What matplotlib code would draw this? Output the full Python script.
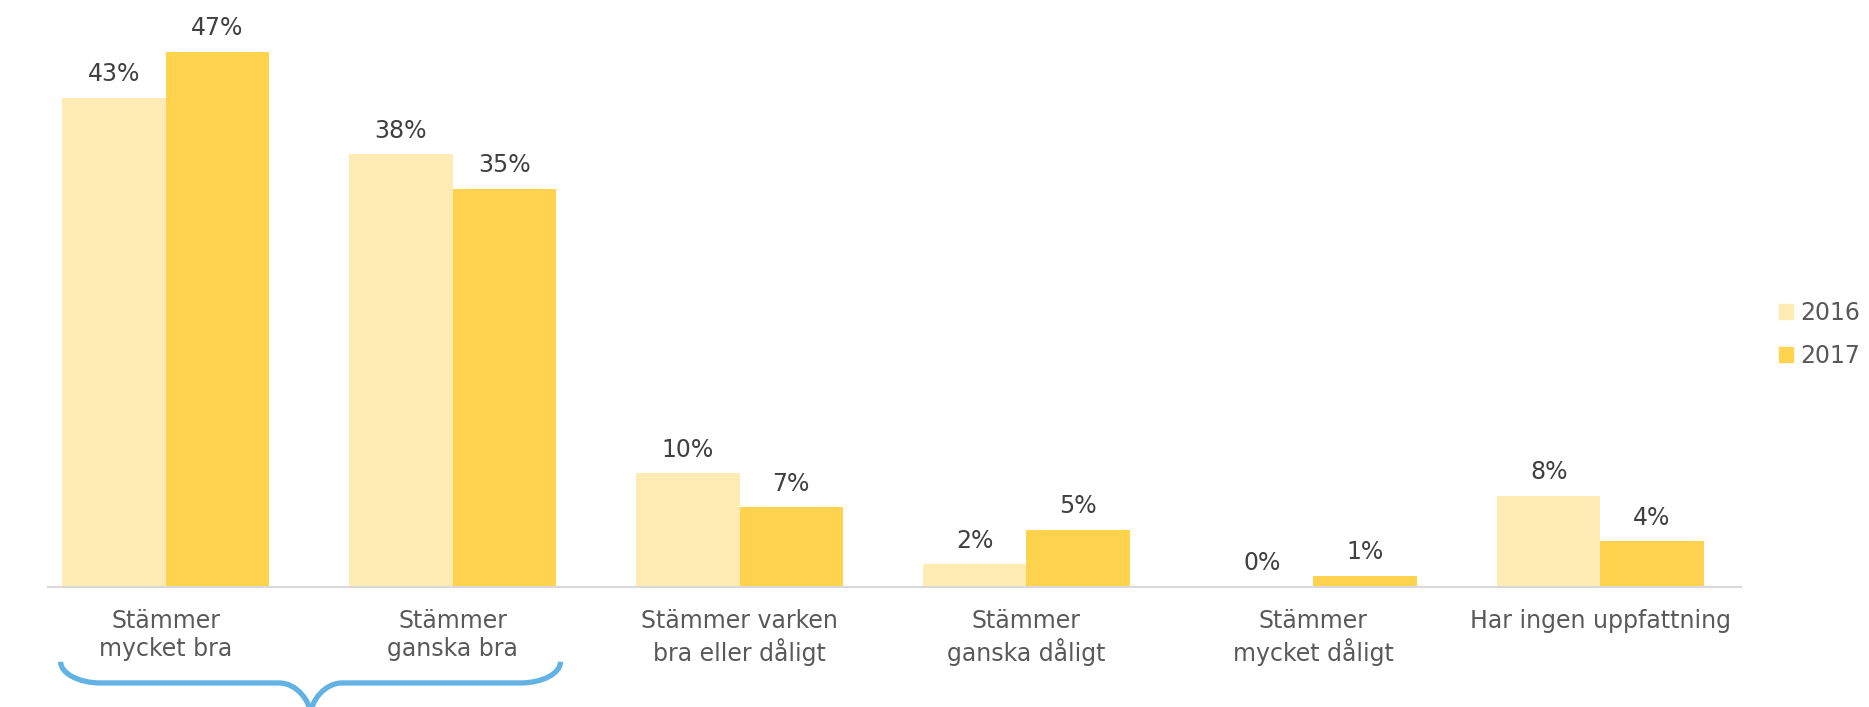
import matplotlib.pyplot as plt
from matplotlib.path import Path
from matplotlib.patches import PathPatch, Patch
from matplotlib.transforms import blended_transform_factory

plt.rcParams['font.family'] = ['DejaVu Sans']

# data
categories = [
    "Stämmer\nmycket bra",
    "Stämmer\nganska bra",
    "Stämmer varken\nbra eller dåligt",
    "Stämmer\nganska dåligt",
    "Stämmer\nmycket dåligt",
    "Har ingen uppfattning",
]
years = ["2016", "2017"]
values_2016 = [43, 38, 10, 2, 0, 8]
values_2017 = [47, 35, 7, 5, 1, 4]

light = '#FFEBB3'
dark = '#FFD34E'
val_color = '#404040'
lab_color = '#595959'
brace_color = '#62B3E3'

fig = plt.figure(figsize=(18.69, 7.07), dpi=100)
ax = fig.add_axes([0.0257, 0.1697, 0.9058, 0.805])

x = list(range(len(categories)))
w = 0.36
b1 = ax.bar([i - w / 2 for i in x], values_2016, width=w, color=light, label=years[0])
b2 = ax.bar([i + w / 2 for i in x], values_2017, width=w, color=dark, label=years[1])

# procentetiketter
for bars, vals in ((b1, values_2016), (b2, values_2017)):
    for rect, v in zip(bars, vals):
        ax.annotate(f"{v}%", (rect.get_x() + rect.get_width() / 2, rect.get_height()),
                    xytext=(0, 12), textcoords='offset points',
                    ha='center', va='baseline', fontsize=17, color=val_color)

ax.set_xlim(-0.41, 5.49)
ax.set_ylim(0, 50)
ax.set_xticks(x)
ax.set_xticklabels(categories, fontsize=17, color=lab_color, linespacing=1.22)
ax.tick_params(axis='x', length=0, pad=16)
ax.set_yticks([])
for s in ('left', 'right', 'top'):
    ax.spines[s].set_visible(False)
ax.spines['bottom'].set_color('#D9D9D9')
ax.spines['bottom'].set_linewidth(1.5)

# legend
handles = [Patch(color=light), Patch(color=dark)]
fig.legend(handles, years, loc='center left', bbox_to_anchor=(0.952, 0.527),
           frameon=False, fontsize=17, labelcolor=lab_color,
           handlelength=0.6, handleheight=0.6, handletextpad=0.3,
           labelspacing=0.83, borderpad=0, borderaxespad=0)

# klammer under de två första grupperna
trans = blended_transform_factory(ax.transData, fig.transFigure)
x0, x1 = -0.366, 1.376
xc = (x0 + x1) / 2
yt, yh, ytip = 0.064, 0.034, -0.012
r, rc, k = 0.14, 0.11, 0.552
verts = [
    (x0, yt),
    (x0, yt - k * (yt - yh)), (x0 + (1 - k) * r, yh), (x0 + r, yh),
    (xc - rc, yh),
    (xc - rc + k * rc, yh), (xc, yh - k * (yh - ytip)), (xc, ytip),
    (xc, yh - k * (yh - ytip)), (xc + rc - k * rc, yh), (xc + rc, yh),
    (x1 - r, yh),
    (x1 - (1 - k) * r, yh), (x1, yt - k * (yt - yh)), (x1, yt),
]
codes = [Path.MOVETO,
         Path.CURVE4, Path.CURVE4, Path.CURVE4,
         Path.LINETO,
         Path.CURVE4, Path.CURVE4, Path.CURVE4,
         Path.CURVE4, Path.CURVE4, Path.CURVE4,
         Path.LINETO,
         Path.CURVE4, Path.CURVE4, Path.CURVE4]
brace = PathPatch(Path(verts, codes), fill=False, edgecolor=brace_color,
                  linewidth=3.8, transform=trans, clip_on=False)
ax.add_patch(brace)

fig.savefig('out.png', dpi=100)
